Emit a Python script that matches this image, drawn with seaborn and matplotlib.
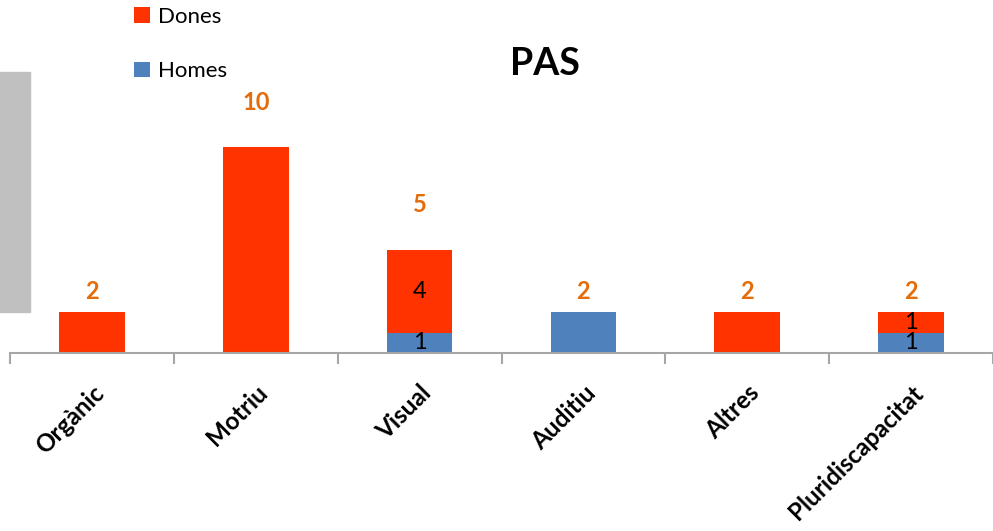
import numpy as np
import pandas as pd
import matplotlib
matplotlib.use("Agg")
import matplotlib.pyplot as plt
from matplotlib.patches import Rectangle
import seaborn as sns

categories = ["Orgànic", "Motriu", "Visual", "Auditiu", "Altres", "Pluridiscapacitat"]
homes = [0, 0, 1, 2, 0, 1]
dones = [2, 10, 4, 0, 2, 1]

RED = "#FF3300"
BLUE = "#4F81BD"
ORANGE = "#E46C0A"

sns.set_theme(style="white")
plt.rcParams["font.family"] = ["Lato", "DejaVu Sans"]
plt.rcParams["text.color"] = "black"

df = pd.DataFrame({"cat": categories, "Homes": homes, "Dones": dones})
totals = df["Homes"] + df["Dones"]

fig = plt.figure(figsize=(9.93, 5.31), dpi=100)
ax = fig.add_axes([0.0101, 0.335, 0.9899, 0.5424])

sns.barplot(data=df, x="cat", y="Homes", color=BLUE, width=0.4,
            linewidth=0, saturation=1, ax=ax, label="Homes")
sns.barplot(data=df, x="cat", y="Dones", color=RED, width=0.4,
            linewidth=0, saturation=1, ax=ax, bottom=df["Homes"], label="Dones")
handles, labels = ax.get_legend_handles_labels()
if ax.get_legend() is not None:
    ax.get_legend().remove()

# segment labels
for i, (h, d) in enumerate(zip(homes, dones)):
    if h and d:
        ax.text(i, h / 2, str(h), ha="center", va="center", fontsize=17, color="black")
        ax.text(i, h + d / 2, str(d), ha="center", va="center", fontsize=17, color="black")

# total labels, floating above the stacks
for i, t in enumerate(totals):
    ax.text(i, min(1.5 * t, t + 2.2), str(t), ha="center", va="center",
            fontsize=17, fontweight="bold", color=ORANGE)

ax.set_xlim(-0.5, len(categories) - 0.5)
ax.set_ylim(0, 14)
ax.set_xlabel("")
ax.set_ylabel("")
ax.set_yticks([])
for s in ["top", "right", "left"]:
    ax.spines[s].set_visible(False)
ax.spines["bottom"].set_color("#A6A6A6")
ax.spines["bottom"].set_linewidth(1.5)

ax.set_xticks(np.arange(len(categories)))
ax.set_xticklabels(categories, rotation=45, ha="right", rotation_mode="anchor",
                   fontsize=17.5, fontweight="bold", color="black")
ax.set_xticks(np.arange(-0.5, len(categories)), minor=True)
ax.tick_params(axis="x", which="major", length=0, pad=20)
ax.tick_params(axis="x", which="minor", length=8, width=1.5, color="#A6A6A6", bottom=True)

fig.text(0.549, 0.88, "PAS", ha="center", va="center", fontsize=27,
         fontweight="bold", color="black")

order = [labels.index("Dones"), labels.index("Homes")]
fig.legend([handles[k] for k in order], [labels[k] for k in order],
           loc="upper left", bbox_to_anchor=(0.115, 1.025), frameon=False,
           fontsize=16, labelspacing=1.55, handlelength=0.7, handleheight=0.7,
           handletextpad=0.35, labelcolor="black")

fig.patches.append(Rectangle((0, 1 - 312 / 531), 30 / 993, 240 / 531,
                             transform=fig.transFigure, color="#C0C0C0", zorder=0))

fig.savefig("out.png", dpi=100)
